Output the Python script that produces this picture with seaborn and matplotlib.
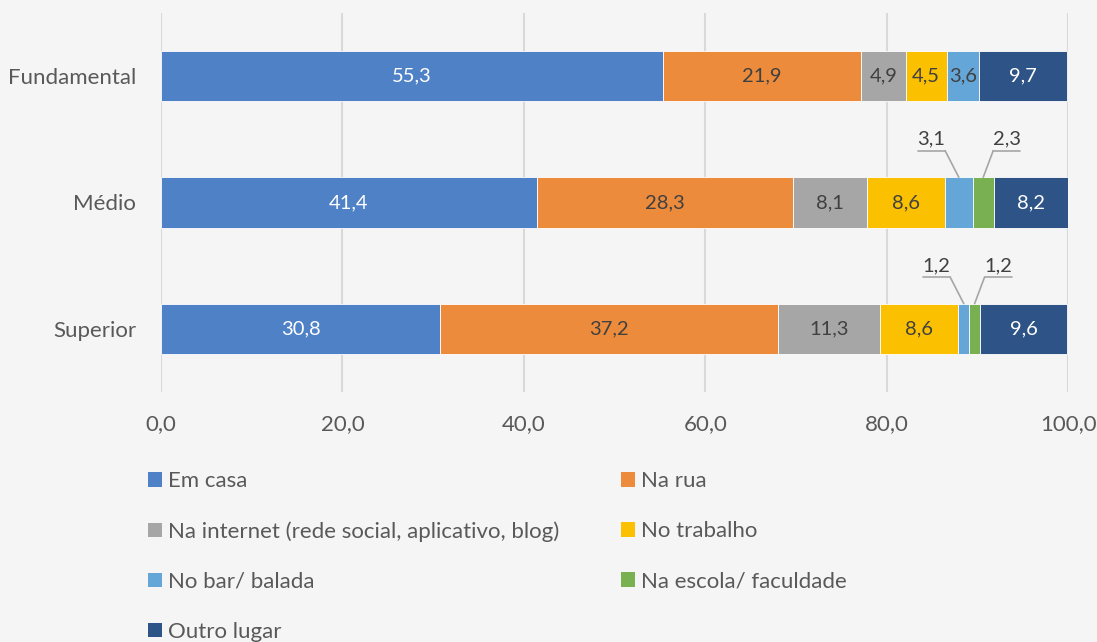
import numpy as np
import pandas as pd
import seaborn as sns
import matplotlib.pyplot as plt
from matplotlib.patches import Patch

niveis = ["Fundamental", "Médio", "Superior"]
locais = ["Em casa", "Na rua", "Na internet (rede social, aplicativo, blog)",
          "No trabalho", "No bar/ balada", "Na escola/ faculdade", "Outro lugar"]
em_casa = [55.3, 41.4, 30.8]
na_rua = [21.9, 28.3, 37.2]
internet = [4.9, 8.1, 11.3]
trabalho = [4.5, 8.6, 8.6]
bar = [3.6, 3.1, 1.2]
escola = [0.0, 2.3, 1.2]
outro = [9.7, 8.2, 9.6]
xticks = [0, 20, 40, 60, 80, 100]

cores = ["#4f81c6", "#ec8b3c", "#a6a6a6", "#fbc101", "#65a6d9", "#79b152", "#2e5387"]
cor_texto = ["white", "#404040", "#404040", "#404040", "#404040", "#404040", "white"]

series = [em_casa, na_rua, internet, trabalho, bar, escola, outro]
df = pd.DataFrame({loc: vals for loc, vals in zip(locais, series)}, index=niveis)

sns.set_theme(style="white")
plt.rcParams["font.family"] = ["Lato", "DejaVu Sans"]
bg = "#f5f5f5"

fig = plt.figure(figsize=(10.97, 6.42), dpi=100, facecolor=bg)
ax = fig.add_axes([0.1468, 0.3894, 0.8268, 0.5904])
ax.set_facecolor(bg)

for x in xticks:
    ax.axvline(x, color="#d9d9d9", lw=1.5, zorder=0)

left = np.zeros(len(niveis))
for i, loc in enumerate(locais):
    vals = df[loc].values
    sns.barplot(x=vals, y=niveis, orient="h", color=cores[i], left=left,
                width=0.4, edgecolor="white", linewidth=0.6, ax=ax, zorder=2,
                saturation=1)
    cont = ax.containers[-1]
    labels = [f"{v:.1f}".replace(".", ",") if v >= 3.5 else "" for v in vals]
    ax.bar_label(cont, labels=labels, label_type="center",
                 color=cor_texto[i], fontsize=14.5)
    # small segments get callout labels above the bar
    for j, v in enumerate(vals):
        if 0 < v < 3.5:
            cx = left[j] + v / 2
            top = j - 0.2
            dx = -3.0 if loc == "No bar/ balada" else 2.6
            tx = cx + dx
            ax.text(tx, j - 0.5, f"{v:.1f}".replace(".", ","), ha="center",
                    va="center", fontsize=14.5, color="#404040")
            ly = j - 0.41
            ax.plot([tx - 1.5, tx + 1.5], [ly, ly], color="#a6a6a6", lw=1.2,
                    zorder=3, clip_on=False)
            inner = tx + 1.5 if dx < 0 else tx - 1.5
            ax.plot([inner, cx], [ly, top], color="#a6a6a6", lw=1.2, zorder=3)
    left = left + vals

ax.set_xlim(0, 100)
ax.set_ylim(2.5, -0.5)
ax.set_xticks(xticks)
ax.set_xticklabels([f"{x:.1f}".replace(".", ",") for x in xticks])
ax.tick_params(axis="x", length=0, pad=16, labelsize=16, labelcolor="#595959")
ax.tick_params(axis="y", length=0, pad=18, labelsize=16, labelcolor="#595959")
ax.set_xlabel("")
ax.set_ylabel("")
sns.despine(ax=ax, left=True, bottom=True)

handles = [Patch(facecolor=c, edgecolor="none") for c in cores]
ordem = [0, 2, 4, 6, 1, 3, 5]
leg = fig.legend([handles[k] for k in ordem], [locais[k] for k in ordem],
                 ncol=2, loc="upper left", bbox_to_anchor=(0.117, 0.297),
                 frameon=False, fontsize=16, labelcolor="#595959",
                 handlelength=0.6, handleheight=0.6, handletextpad=0.3,
                 labelspacing=1.35, columnspacing=2.78)

fig.savefig("out.png", dpi=100, facecolor=bg)
